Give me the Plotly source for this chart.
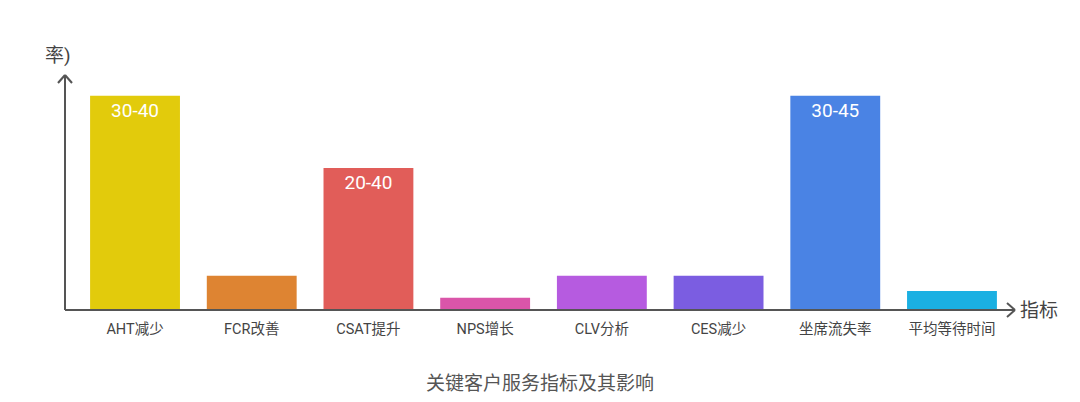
import plotly.graph_objects as go

# 指标 / 数值 / 标签
categories = ['AHT减少', 'FCR改善', 'CSAT提升', 'NPS增长', 'CLV分析', 'CES减少', '坐席流失率', '平均等待时间']
values = [35, 5.6, 23.2, 2.0, 5.6, 5.6, 35, 3.1]
bar_labels = ['30-40', '', '20-40', '', '', '', '30-45', '']
colors = ['#E2CB0C', '#DE8432', '#E15D59', '#DA55A9', '#B65BE0', '#7B5DE1', '#4A83E4', '#1BB0E2']

font_family = 'Roboto, Noto Sans CJK SC, sans-serif'
axis_color = '#555555'

fig = go.Figure(go.Bar(
    x=categories,
    y=values,
    text=bar_labels,
    textposition='inside',
    insidetextanchor='end',
    textfont=dict(color='white', size=19, family=font_family),
    marker=dict(color=colors, line=dict(width=0)),
    width=0.77,
    hoverinfo='skip',
))

x_lo, x_hi = -0.6, 7.54
y_top = 38.4

# axis lines with open arrow heads (paper refs so they are not clipped)
shapes = [
    dict(type='line', xref='paper', yref='paper', x0=0, x1=1, y0=0, y1=0,
         line=dict(color=axis_color, width=2)),
    dict(type='line', xref='paper', yref='paper', x0=0, x1=0, y0=0, y1=1,
         line=dict(color=axis_color, width=2)),
]
for dx, dy in [(-8, 7), (-8, -7)]:
    shapes.append(dict(type='line', xref='paper', yref='paper', xsizemode='pixel', ysizemode='pixel',
                       xanchor=1, yanchor=0, x0=dx, x1=0, y0=dy, y1=0,
                       line=dict(color=axis_color, width=2)))
for dx, dy in [(-7, -8), (7, -8)]:
    shapes.append(dict(type='line', xref='paper', yref='paper', xsizemode='pixel', ysizemode='pixel',
                       xanchor=0, yanchor=1, x0=dx, x1=0, y0=dy, y1=0,
                       line=dict(color=axis_color, width=2)))

fig.update_layout(
    width=1072, height=394,
    margin=dict(l=57, r=65, t=67, b=92),
    paper_bgcolor='white', plot_bgcolor='white',
    showlegend=False,
    font=dict(family=font_family, color='#444444'),
    xaxis=dict(range=[x_lo, x_hi], showgrid=False, zeroline=False, showline=False,
               ticks='outside', ticklen=6, tickcolor='rgba(0,0,0,0)',
               tickfont=dict(size=14.5, color='#444444')),
    yaxis=dict(range=[0, y_top], showgrid=False, zeroline=False, showline=False,
               showticklabels=False, ticks=''),
    shapes=shapes,
    annotations=[
        dict(text='率)', xref='paper', yref='paper', x=0, y=1, xanchor='center', yanchor='bottom',
             xshift=-7, yshift=6, showarrow=False, font=dict(size=19, color='#444444')),
        dict(text='指标', xref='paper', yref='paper', x=1, y=0, xanchor='left', yanchor='middle',
             xshift=3, showarrow=False, font=dict(size=19, color='#444444')),
        dict(text='关键客户服务指标及其影响', xref='paper', yref='paper', x=0.5, y=0,
             xanchor='center', yanchor='top', yshift=-60, showarrow=False,
             font=dict(size=19, color='#555555')),
    ],
)

fig.write_html('out.html')
